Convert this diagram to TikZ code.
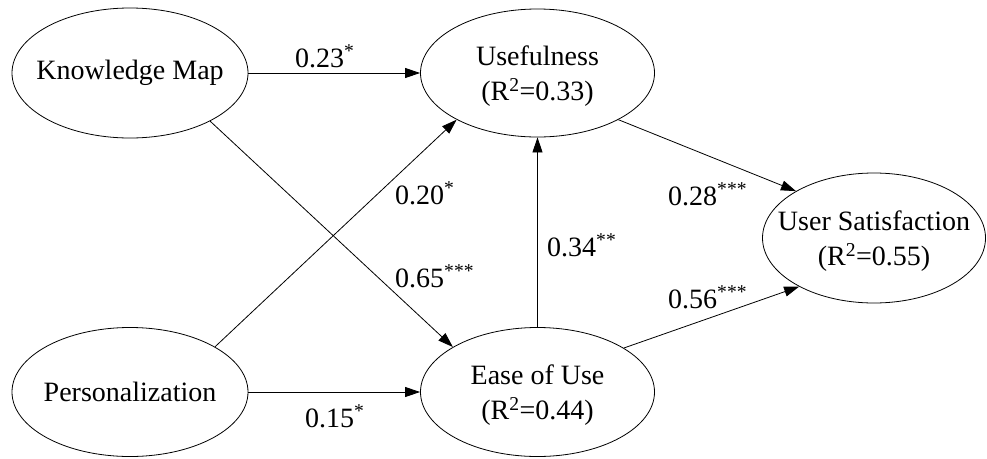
\documentclass[tikz,border=0pt]{standalone}
\usepackage{fontspec}
\setmainfont{Liberation Serif}
\usetikzlibrary{shapes.geometric,arrows.meta}
\begin{document}
\begin{tikzpicture}[x=1pt,y=-1pt,
  var/.style={draw, ellipse, line width=0.8pt, inner sep=0pt},
  conn/.style={draw, line width=0.8pt, -{Triangle[length=15pt,width=10pt]}},
  coef/.style={anchor=base west, inner sep=0pt, font=\fontsize{28}{34}\selectfont},
  lab/.style={align=center, inner sep=0pt, font=\fontsize{28}{35}\selectfont},
  lab2/.style={lab, yshift=-3.5pt}
]
\useasboundingbox (0,0) rectangle (987,458);

\node[var, minimum width=236pt, minimum height=130pt,
  label={[lab]center:Knowledge Map}] (km) at (130,73) {};
\node[var, minimum width=234pt, minimum height=128pt,
  label={[lab2]center:Usefulness\\(R\textsuperscript{2}=0.33)}] (use) at (537.5,73) {};
\node[var, minimum width=236pt, minimum height=129pt,
  label={[lab]center:Personalization}] (pers) at (130,392) {};
\node[var, minimum width=234pt, minimum height=129pt,
  label={[lab2]center:Ease of Use\\(R\textsuperscript{2}=0.44)}] (ease) at (537.5,392) {};
\node[var, minimum width=223pt, minimum height=130pt,
  label={[lab2]center:User Satisfaction\\(R\textsuperscript{2}=0.55)}] (us) at (874,238) {};

\draw[conn] (km) -- (use);
\draw[conn] (km.-31) -- (ease.152);
\draw[conn] (pers.28.5) -- (use.210);
\draw[conn] (pers) -- (ease);
\draw[conn] (ease) -- (use);
\draw[conn] (use.-30.5) -- (us.149);
\draw[conn] (ease.27.6) -- (us.213);

\node[coef] (c1) at (295,67) {0.23\textsuperscript{*}};
\node[coef] (c2) at (305,427) {0.15\textsuperscript{*}};
\node[coef] (c3) at (395,204) {0.20\textsuperscript{*}};
\node[coef] (c4) at (395,287) {0.65\textsuperscript{***}};
\node[coef] (c5) at (547,256) {0.34\textsuperscript{**}};
\node[coef] (c6) at (668,205) {0.28\textsuperscript{***}};
\node[coef] (c7) at (668,308) {0.56\textsuperscript{***}};
\end{tikzpicture}
\end{document}
